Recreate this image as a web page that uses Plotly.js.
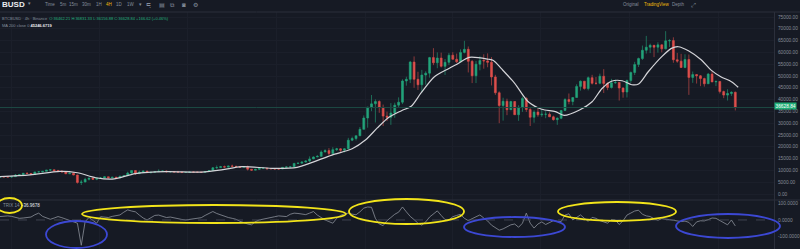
<!DOCTYPE html>
<html><head><meta charset="utf-8">
<script src="https://cdn.plot.ly/plotly-3.0.1.min.js"></script>
<style>html,body{margin:0;padding:0;background:#161a24;overflow:hidden}#chart{width:800px;height:249px}</style>
</head><body><div id="chart"></div>
<script>
// ---------- data ----------
const startDate = [2019, 11, 20];   // first 4-day candle (UTC)
const stepDays = 4;
const firstOpen = 7150;
const closes = [
  7320,7250,7190,
  7350,8050,8190,8810,8700,8400,9360,9380,
  9620,10150,10250,9900,9700,9350,8550,
  8800,8050,4900,5050,6200,6750,6250,6650,
  6780,7300,6900,7100,6850,7550,7780,8900,
  9950,8600,9300,9700,9180,9200,9450,
  9650,9750,9450,9500,9300,9300,9100,9150,
  9350,9270,9250,9170,9520,9950,11100,11200,
  11600,11400,11850,11750,11650,11300,11650,
  10500,10100,10450,10950,10950,10750,10700,10600,
  10600,11300,11450,11500,12950,13050,13550,14000,
  14850,15700,15950,17800,18400,17150,18800,
  19150,18550,19150,22800,23500,24700,27400,32200,
  36800,38200,39200,36650,33000,32500,34300,37650,
  38900,47900,48600,55900,48600,46300,50400,
  51200,57800,55600,57600,54100,55800,58800,
  57100,56000,60000,61300,56200,50100,55000,56600,
  56400,55800,49600,42900,37500,39300,35700,39200,
  33600,36700,40500,35800,32500,34700,33550,
  33800,33800,32700,31500,32100,35400,40000,39200,
  40900,45600,47800,44700,49300,46900,46900,49900,
  46800,45100,47100,47300,44900,43200,48100,
  51500,54900,57400,60900,62200,63000,62200,63200,
  61500,64900,65000,56900,56300,53600,57000,
  49400,50600,50100,48900,46700,50800,47500,47700,
  43400,41900,42600,43100,36628.84
];
const highs = [
  7680,7450,7550,
  7500,8450,8200,8900,9150,8800,9400,9600,
  9700,10150,10500,10400,10250,10000,9350,
  9150,9200,8200,6000,6900,6850,6950,6700,
  7200,7450,7300,7300,7300,7700,7800,9450,
  10000,10050,9950,9900,9850,9250,9700,
  10450,9850,9950,9550,9550,9800,9350,9300,
  9400,9450,9350,9250,9550,10150,11450,12100,
  11900,12050,12000,12450,11900,11750,11850,
  12050,10600,10650,11100,11150,10950,10900,10950,
  10800,11450,11750,11600,13200,13350,13850,14250,
  15950,15950,16500,18500,18950,19450,19850,
  19550,19400,19400,23800,24300,24800,28400,33300,
  36950,41950,40100,39700,37900,34900,38500,38700,
  40950,48600,49700,56400,58300,51800,52600,
  52000,58100,61800,60000,59900,57200,59800,
  60100,59500,61300,64900,62500,56800,56400,58400,
  59200,59600,58000,50500,43500,40800,40400,39500,
  39300,37600,41300,41000,36400,35500,36600,
  35950,35100,34600,33200,32500,35450,40600,42600,
  41000,46500,48100,47900,49800,50500,49600,51000,
  52900,47400,48800,48500,47400,45200,48500,
  51900,56000,57800,62900,67000,63700,63200,64300,
  63400,69000,65600,66400,59800,59400,59200,
  59100,51900,50800,50400,49300,51300,52100,48100,
  47900,43800,44400,43500,43400
];
const lows = [
  7050,7080,7150,
  6870,7350,7700,8050,8500,8250,8250,9220,
  9150,9600,9750,9450,9300,9250,8450,
  8450,7950,4400,3800,5000,5750,6050,5850,
  6550,6750,6550,6600,6800,6850,7450,7700,
  8550,8100,8550,9150,8800,8600,9050,
  9350,9550,9050,8950,9200,9200,8850,8950,
  8950,9150,9150,9050,9100,9450,9950,10650,
  11050,11150,11150,11650,11350,11150,11200,
  9950,9850,10050,10250,10750,10150,10550,10400,
  10500,10550,11250,11250,11450,12750,12900,13300,
  13550,14800,15600,15900,17700,16300,17100,
  18200,17700,17600,19050,22400,22700,24500,27300,
  28100,35100,30300,34400,28800,30900,29300,32300,
  36600,38100,45900,47000,45000,44100,43000,
  46300,49300,54600,53300,53600,50400,54700,
  56900,55500,55900,59600,51500,47000,47000,52400,
  53100,53700,46000,42000,30000,31100,33400,35600,
  33500,31000,34800,34800,28800,30200,32700,
  32700,32100,32600,31100,29300,31700,35200,38000,
  37600,40800,43800,44200,43900,46400,46300,46500,
  42800,44000,44700,46700,39600,40800,40900,
  47100,50400,53800,56800,59500,59700,58000,59900,
  60000,61300,62300,55600,55600,53400,53300,
  42000,47100,46800,45700,45500,46600,47400,45700,
  42600,40600,39600,41600,35400
];
// MA 200 (close) line
const maDates = ['2019-12-20','2020-01-20','2020-02-20','2020-03-09','2020-03-28','2020-04-14','2020-05-08','2020-06-08','2020-07-15','2020-08-05','2020-08-26','2020-09-26','2020-10-22','2020-11-06','2020-11-27','2020-12-18','2021-01-01','2021-01-13','2021-01-25','2021-02-07','2021-02-17','2021-02-27','2021-03-13','2021-03-28','2021-04-07','2021-04-18','2021-05-08','2021-05-13','2021-05-21','2021-06-04','2021-06-18','2021-07-02','2021-07-16','2021-07-25','2021-08-10','2021-08-23','2021-09-02','2021-09-12','2021-09-23','2021-10-03','2021-10-10','2021-10-20','2021-11-03','2021-11-13','2021-11-20','2021-12-01','2021-12-14','2021-12-24','2022-01-03','2022-01-14','2022-01-21'];
const maValues = [7340,8100,9600,9000,6900,6300,8600,9450,9300,10200,11600,10900,11300,13300,16500,19200,23000,28000,32500,35300,37200,42700,49700,53200,55400,57900,57100,56600,53200,46900,39100,35900,34900,33300,35600,39100,44600,47800,48000,46300,46600,51800,58200,61700,62400,60600,56800,52500,49700,47600,45246.67];
// lower pane indicator (one value per candle)
const trixValues = [
  21,23,25,22,15,10,12,15,18,32,42,22,12,4,12,21,14,6,-2,-12,
  -20,-156,-10,15,0,-20,20,18,15,22,28,31,48,62,55,50,30,12,0,15,
  28,30,22,15,18,12,8,3,0,4,8,10,14,28,42,52,40,30,22,15,
  10,4,-8,-18,-25,-30,-10,0,6,10,15,20,25,22,21,35,42,40,35,33,
  42,52,30,14,0,-10,-20,10,28,38,42,36,32,50,73,80,78,10,-25,-35,
  -4,15,35,48,80,50,22,2,-20,-32,-12,18,40,56,28,2,0,20,28,35,
  10,-4,8,20,31,12,-6,-32,-50,-63,-55,-42,-30,-25,-45,-20,42,-20,-50,-25,
  -12,-28,-18,-4,-8,-10,30,38,0,15,31,10,-8,16,10,-4,-12,-20,2,0,
  -28,-5,30,44,55,60,35,25,21,8,-2,8,7,2,-2,-6,-10,-7,-15,-40,
  -12,-5,-6,2,12,10,-3,-15,-30,0,-36.97
];
const priceTicks = [0,5000,10000,15000,20000,25000,30000,35000,40000,45000,50000,55000,60000,65000,70000,75000];
const trixTicks = [-100,0,100];
const lastPrice = 36628.84;

// ---------- build ----------
const n = Math.min(closes.length, highs.length, lows.length);
const dates = [];
for (let i = 0; i < n; i++) {
  const d = new Date(Date.UTC(startDate[0], startDate[1], startDate[2] + i*stepDays));
  dates.push(d.toISOString().slice(0,10));
}
const opens = closes.slice(0, n).map((c, i) => i === 0 ? firstOpen : closes[i-1]);

const BG = '#161a24', GRID = '#1b1f2a', AX = '#2b2f3b', TXT = '#858a96';
const UP = '#23a47b', DN = '#de4f4c';
const FONT = 'Liberation Sans, Arial, sans-serif';
const PW = 774, TOP = 12, PH = 249 - TOP;
const px = x => x / PW;
const py = y => (249 - y) / PH;
const split = py(200);

const traces = [
  {type:'candlestick', x:dates, open:opens, high:highs.slice(0,n), low:lows.slice(0,n), close:closes.slice(0,n),
   increasing:{line:{color:UP,width:0.6}, fillcolor:UP}, decreasing:{line:{color:DN,width:0.6}, fillcolor:DN},
   whiskerwidth:0, hoverinfo:'skip', xaxis:'x', yaxis:'y'},
  {type:'scatter', mode:'lines', x:maDates, y:maValues, line:{color:'#d4d4d8', width:1.2, shape:'spline', smoothing:0.8},
   hoverinfo:'skip', xaxis:'x', yaxis:'y'},
  {type:'scatter', mode:'lines', x:dates.slice(0, trixValues.length), y:trixValues, line:{color:'#8c909b', width:0.8},
   hoverinfo:'skip', xaxis:'x2', yaxis:'y2'}
];

const xr = ['2019-12-20','2022-02-27'];
const ann = [];
function t(x, y, text, size, color, extra) {
  ann.push(Object.assign({xref:'paper', yref:'paper', x:px(x), y:py(y), xanchor:'left', yanchor:'middle',
    showarrow:false, text:text, font:{family:FONT, size:size, color:color}}, extra||{}));
}
t(0, 5, '<b>BUSD</b>', 8, '#eaecef');
t(26, 4, '▾', 4.5, '#848e9c');
[['Time',43],['5m',58],['15m',67],['30m',80],['1H',94],['4H',104],['1D',114],['1W',125],['▾',137]].forEach(a =>
  t(a[1], 5, a[0], 4.5, a[0]==='4H' ? '#f0b90b' : '#848e9c'));
[['≒',144],['▤',157],['⧉',168],['◙',180],['⚙',191]].forEach(a => t(a[1], 5, a[0], 6, '#848e9c'));
t(621, 5, 'Original', 4.5, '#848e9c');
t(642, 5, 'TradingView', 4.5, '#f0b90b');
t(670, 5, 'Depth', 4.5, '#848e9c');
t(689, 5, '⤢', 6, '#848e9c');
t(0, 18, '<span style="color:#848e9c">BTCBUSD\u00a0·\u00a04h\u00a0·\u00a0Binance\u00a0\u00a0</span>O:36462.21 H:36831.33 L:36156.88 C:36628.84 +166.62 (+0.46%)', 4, '#22b07d');
t(0, 26, '<span style="color:#848e9c">MA 200 close 0\u00a0</span><b>45246.6719</b>', 4, '#eaecef');
t(1, 205, '<span style="color:#848e9c">TRIX 14\u00a0\u00a0</span>-36.9678', 4.5, '#eaecef');
ann.push({xref:'paper', yref:'y', x:1, y:lastPrice, xanchor:'left', yanchor:'middle', showarrow:false, yshift:1.5,
  text:'36628.84', bgcolor:'#1fae77', borderpad:0.5, font:{family:FONT, size:4.8, color:'#ffffff'}});

const shapes = [
  {type:'line', xref:'paper', yref:'paper', x0:0, x1:800/PW, y0:1, y1:1, line:{color:AX, width:1}},
  {type:'line', xref:'paper', yref:'paper', x0:0, x1:800/PW, y0:split, y1:split, line:{color:AX, width:1}},
  {type:'line', xref:'paper', yref:'y', x0:0, x1:1, y0:lastPrice, y1:lastPrice, line:{color:'#1d4a44', width:1}},
  {type:'line', xref:'paper', yref:'y2', x0:0, x1:1, y0:0, y1:0, line:{color:'#4a4f5c', width:0.8, dash:'dash'}}
];
const ellipses = [
  ['#f2e41a', -3, 198, 22, 213],
  ['#3c48d4', 46, 221, 107, 248],
  ['#f2e41a', 82, 205, 346, 223],
  ['#f2e41a', 349, 199, 464, 224],
  ['#3c48d4', 464, 217, 565, 237],
  ['#f2e41a', 558, 202, 676, 221],
  ['#3c48d4', 676, 214, 780, 238]
];
ellipses.forEach(e => shapes.push({type:'circle', xref:'paper', yref:'paper', layer:'above',
  x0:px(e[1]), x1:px(e[3]), y0:py(e[4]), y1:py(e[2]), line:{color:e[0], width:1.8}, fillcolor:'rgba(0,0,0,0)'}));

const yTick = {family:FONT, size:4.8, color:TXT};
const layout = {
  width:800, height:249, margin:{l:0, r:26, t:TOP, b:0, pad:0},
  paper_bgcolor:BG, plot_bgcolor:BG, showlegend:false, dragmode:false,
  xaxis:{domain:[0,1], anchor:'y', range:xr, type:'date', showticklabels:false, showgrid:true, gridcolor:GRID,
         dtick:'M3', zeroline:false, showline:false, rangeslider:{visible:false}, fixedrange:true},
  xaxis2:{domain:[0,1], anchor:'y2', range:xr, type:'date', matches:'x', showticklabels:false, showgrid:true,
          gridcolor:GRID, dtick:'M3', zeroline:false, showline:false, rangeslider:{visible:false}, fixedrange:true},
  yaxis:{domain:[split,1], anchor:'x', side:'right', range:[-2540,77120], tickvals:priceTicks,
         ticktext:priceTicks.map(v => v.toFixed(2)), tickfont:yTick, showgrid:true, gridcolor:GRID,
         zeroline:false, showline:true, linecolor:AX, linewidth:1, ticks:'', ticklabelstandoff:2, fixedrange:true},
  yaxis2:{domain:[0,split], anchor:'x2', side:'right', range:[-179,123], tickvals:trixTicks,
          ticktext:trixTicks.map(v => v.toFixed(4)), tickfont:yTick, showgrid:false,
          zeroline:false, showline:true, linecolor:AX, linewidth:1, ticks:'', ticklabelstandoff:2, fixedrange:true},
  annotations:ann, shapes:shapes
};
Plotly.newPlot('chart', traces, layout, {displayModeBar:false, staticPlot:true});
</script>
</body></html>
